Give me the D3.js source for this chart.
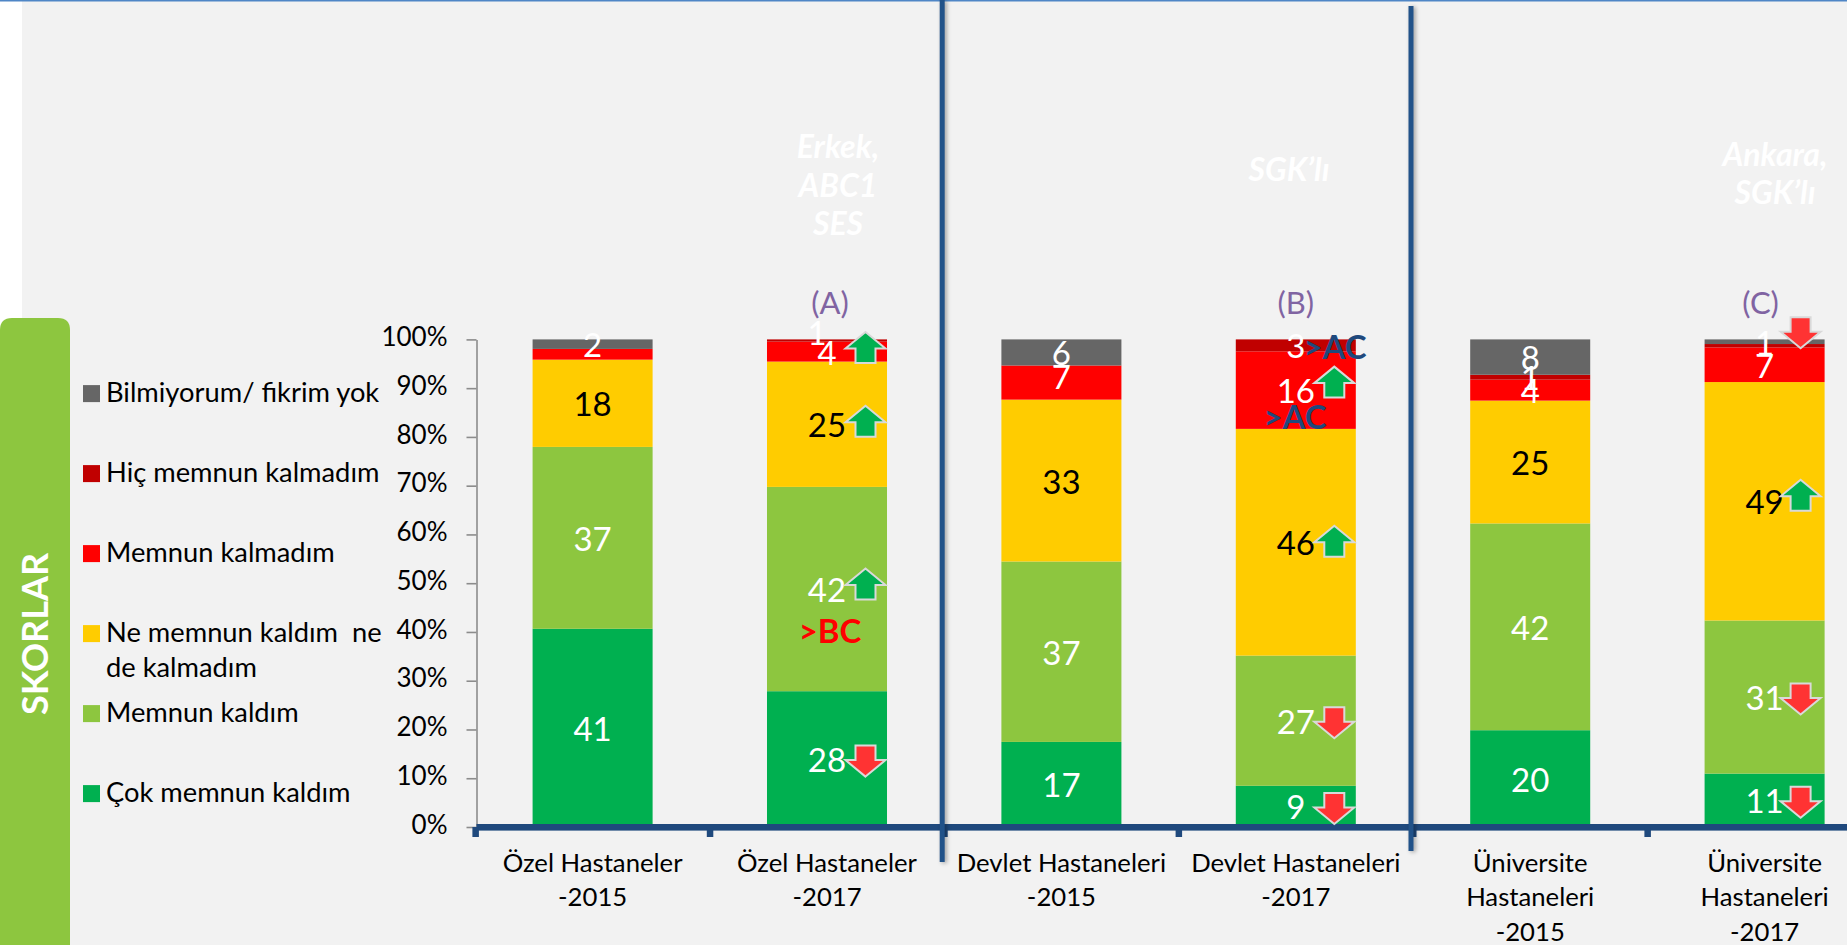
<!DOCTYPE html>
<html>
<head>
<meta charset="utf-8">
<script src="https://cdn.jsdelivr.net/npm/d3@7"></script>
<style>
  html, body { margin: 0; padding: 0; background: #f2f2f2; overflow: hidden; }
  text { font-family: Lato, "Open Sans", sans-serif; }
</style>
</head>
<body>
<div id="chart"></div>
<script>
// categories, "|" marks a line break in the axis label
var categories = [
    "Özel Hastaneler|-2015", "Özel Hastaneler|-2017",
    "Devlet Hastaneleri|-2015", "Devlet Hastaneleri|-2017",
    "Üniversite|Hastaneleri|-2015", "Üniversite|Hastaneleri|-2017"
];

// segment heights
var cokMemnun  = [40.65, 27.85, 17.45, 8.45, 19.85, 10.95];
var memnun     = [37.3, 41.9, 37.0, 26.7, 42.4, 31.4];
var neMemnun   = [17.9, 25.7, 33.2, 46.5, 25.2, 48.9];
var kalmadim   = [2.2, 4.1, 7.0, 15.9, 4.3, 7.1];
var hicMemnun  = [0, 0.45, 0, 2.45, 1.0, 0.7];
var bilmiyorum = [1.95, 0, 5.35, 0, 7.25, 0.95];

// numbers printed on the segments
var cokLabels   = [41, 28, 17, 9, 20, 11];
var memnunLabels = [37, 42, 37, 27, 42, 31];
var neLabels    = [18, 25, 33, 46, 25, 49];
var kalLabels   = [null, 4, 7, 16, 4, 7];
var hicLabels   = [null, 1, null, 3, 1, null];
var bilLabels   = [2, null, 6, null, 8, 1];

var seriesNames = ["Çok memnun kaldım", "Memnun kaldım", "Ne memnun kaldım  ne|de kalmadım",
    "Memnun kalmadım", "Hiç memnun kalmadım", "Bilmiyorum/ fikrim yok"];
var seriesColors = ["#00b050", "#8dc63f", "#ffcc00", "#ff0000", "#c00000", "#666666"];
var seriesValues = [cokMemnun, memnun, neMemnun, kalmadim, hicMemnun, bilmiyorum];
var seriesLabels = [cokLabels, memnunLabels, neLabels, kalLabels, hicLabels, bilLabels];
var yTicks = [0, 10, 20, 30, 40, 50, 60, 70, 80, 90, 100];

// significance arrows: [bar, series, direction]
var arrows = [
    [1, 0, "down"], [1, 1, "up"], [1, 2, "up"], [1, 3, "up"],
    [3, 0, "down"], [3, 1, "down"], [3, 2, "up"], [3, 3, "up"],
    [5, 0, "down"], [5, 1, "down"], [5, 2, "up"], [5, 5, "down"]
];
var groupLetters = ["(A)", "(B)", "(C)"];
var groupBars = [1, 3, 5];

// set parameters
var svgWidth = 1847;
var svgHeight = 945;
var axisY = 827;
var topY = 339.4;

var svg = d3.select("#chart")
    .append("svg")
    .attr("width", svgWidth)
    .attr("height", svgHeight)
    .style("display", "block");

// page background
svg.append("rect").attr("width", svgWidth).attr("height", svgHeight).attr("fill", "#f2f2f2");
svg.append("rect").attr("width", 22).attr("height", svgHeight).attr("fill", "#ffffff");
svg.append("rect").attr("width", svgWidth).attr("height", 1.5).attr("fill", "#4f86c6");

// left panel
svg.append("path")
    .attr("d", "M0,945V330Q0,318 12,318H58Q70,318 70,330V945Z")
    .attr("fill", "#8dc63f");
svg.append("text")
    .attr("transform", "translate(34,634) rotate(-90)")
    .attr("text-anchor", "middle")
    .attr("dominant-baseline", "central")
    .attr("font-size", 36)
    .attr("font-weight", 700)
    .attr("fill", "#ffffff")
    .text("SKORLAR");

// scales
var xScale = d3.scaleBand()
    .domain(categories)
    .range([475.4, 1881.8])
    .paddingInner(0.488)
    .paddingOuter(0.244);

var yScale = d3.scaleLinear()
    .domain([0, 100])
    .range([axisY, topY]);

var step = xScale.step();
var gap = step - xScale.bandwidth();

// stack the series
var rows = categories.map(function(c, i) {
    var row = { category: c };
    seriesNames.forEach(function(s, k) { row[k] = seriesValues[k][i]; });
    return row;
});
var stacked = d3.stack().keys(seriesNames.map(function(s, k) { return k; }))(rows);

// bars
svg.append("g").selectAll("g")
    .data(stacked)
    .enter()
    .append("g")
    .attr("fill", function(d, k) { return seriesColors[k]; })
    .selectAll("rect")
    .data(function(d) { return d; })
    .enter()
    .append("rect")
    .attr("x", function(d) { return xScale(d.data.category); })
    .attr("y", function(d) { return yScale(d[1]); })
    .attr("width", xScale.bandwidth())
    .attr("height", function(d) { return yScale(d[0]) - yScale(d[1]); });

// y axis
var yAxis = svg.append("g")
    .attr("transform", "translate(476.5,0)")
    .call(d3.axisLeft(yScale).tickValues(yTicks).tickFormat(function(d) { return d + "%"; }).tickSize(10).tickSizeOuter(0).tickPadding(19));
yAxis.selectAll("path, line").attr("stroke", "#8c8c8c").attr("stroke-width", 1.6);
yAxis.selectAll("text").attr("font-size", 26).attr("fill", "#000").attr("dy", "0.24em");

// x axis
var xAxis = svg.append("g")
    .attr("transform", "translate(0," + axisY + ")")
    .call(d3.axisBottom(xScale).tickSize(0).tickPadding(0));
xAxis.select("path").remove();
xAxis.selectAll("text")
    .attr("font-size", 25.7)
    .attr("fill", "#000")
    .attr("y", 0)
    .attr("dy", null)
    .each(function(d) {
        var t = d3.select(this).text("");
        d.split("|").forEach(function(line, i) {
            t.append("tspan").attr("x", 0).attr("y", 45 + i * 34.4).text(line);
        });
    });

// thick navy base line with boundary ticks
svg.append("rect")
    .attr("x", 476.5).attr("y", axisY - 3)
    .attr("width", svgWidth - 476.5).attr("height", 6.6)
    .attr("fill", "#1f497d");
svg.append("g").selectAll("rect")
    .data(categories)
    .enter()
    .append("rect")
    .attr("x", function(d) { return xScale(d) - gap / 2 - 3; })
    .attr("y", axisY)
    .attr("width", 6.5)
    .attr("height", 10)
    .attr("fill", "#1f497d");

// group dividers
[[2, 0, 862], [4, 6, 851]].forEach(function(dv) {
    svg.append("rect")
        .attr("x", xScale(categories[dv[0]]) - gap / 2 - 4.5)
        .attr("y", dv[1])
        .attr("width", 5)
        .attr("height", dv[2] - dv[1])
        .attr("fill", "#215289")
        .style("filter", "drop-shadow(2px 1px 2px rgba(0,0,0,0.35))");
});

// segment numbers, a few sit off centre in the original
var labelNudge = { "1-4": [-10, -8], "2-3": [0, -7] };
seriesLabels.forEach(function(labels, k) {
    labels.forEach(function(v, i) {
        if (v === null) return;
        var seg = stacked[k][i];
        var n = labelNudge[i + "-" + k] || [0, 0];
        svg.append("text")
            .attr("x", xScale(categories[i]) + xScale.bandwidth() / 2 + n[0])
            .attr("y", yScale((seg[0] + seg[1]) / 2) + n[1])
            .attr("text-anchor", "middle")
            .attr("dominant-baseline", "central")
            .attr("font-size", 33)
            .attr("fill", k === 2 ? "#000000" : "#ffffff")
            .text(v);
    });
});

// arrows
var upPath = "M0,-15.5L20,1H10V15.5H-10V1H-20Z";
var arrowNudge = { "1-3": -4, "1-1": -5, "1-2": -3, "3-3": -8, "3-2": -1, "5-2": -6, "5-5": -9 };
arrows.forEach(function(a) {
    var seg = stacked[a[1]][a[0]];
    var cx = xScale(categories[a[0]]) + xScale.bandwidth() / 2 + (a[0] === 5 ? 36 : 38.5);
    var cy = yScale((seg[0] + seg[1]) / 2) + (arrowNudge[a[0] + "-" + a[1]] || 2);
    svg.append("path")
        .attr("d", upPath)
        .attr("transform", "translate(" + cx + "," + cy + ")" + (a[2] === "down" ? " scale(1,-1)" : ""))
        .attr("fill", a[2] === "up" ? "#00b050" : "#ff3333")
        .attr("stroke", "#d9d9d9")
        .attr("stroke-width", 2);
});

// letters above the bars
groupBars.forEach(function(b, i) {
    svg.append("text")
        .attr("x", xScale(categories[b]) + xScale.bandwidth() / 2 + (i === 0 ? 3 : i === 2 ? -4 : 0))
        .attr("y", 302)
        .attr("text-anchor", "middle")
        .attr("dominant-baseline", "central")
        .attr("font-size", 31)
        .attr("fill", "#8064a2")
        .text(groupLetters[i]);
});

// significance notes
[[">BC", 830, 630, "#ff0000"], [">AC", 1335, 346, "#1f497d"], [">AC", 1295, 416, "#1f497d"]].forEach(function(n) {
    svg.append("text")
        .attr("x", n[1]).attr("y", n[2])
        .attr("text-anchor", "middle")
        .attr("dominant-baseline", "central")
        .attr("font-size", 33)
        .attr("font-weight", 700)
        .attr("fill", n[3])
        .text(n[0]);
});

// faint white notes at the top
[["Erkek,", 838, 145], ["ABC1", 838, 184], ["SES", 838, 222], ["SGK’lı", 1289, 168], ["Ankara,", 1775, 153], ["SGK’lı", 1775, 191]].forEach(function(n) {
    svg.append("text")
        .attr("x", n[1]).attr("y", n[2])
        .attr("text-anchor", "middle")
        .attr("dominant-baseline", "central")
        .attr("font-size", 32)
        .attr("font-weight", 700)
        .attr("font-style", "italic")
        .attr("fill", "#ffffff")
        .text(n[0]);
});

// legend, top to bottom
var legendY = d3.scalePoint().domain(d3.range(6)).range([393.6, 793.6]);
d3.range(5, -1, -1).forEach(function(k, row) {
    var y = legendY(row);
    svg.append("rect")
        .attr("x", 83).attr("y", y - 8.5)
        .attr("width", 17).attr("height", 17)
        .attr("fill", seriesColors[k]);
    seriesNames[k].split("|").forEach(function(line, i) {
        svg.append("text")
            .attr("x", 106)
            .attr("y", y - 2 + i * 35)
            .attr("dominant-baseline", "central")
            .attr("font-size", 27.3)
            .attr("fill", "#000")
            .style("white-space", "pre")
            .text(line);
    });
});
</script>
</body>
</html>
